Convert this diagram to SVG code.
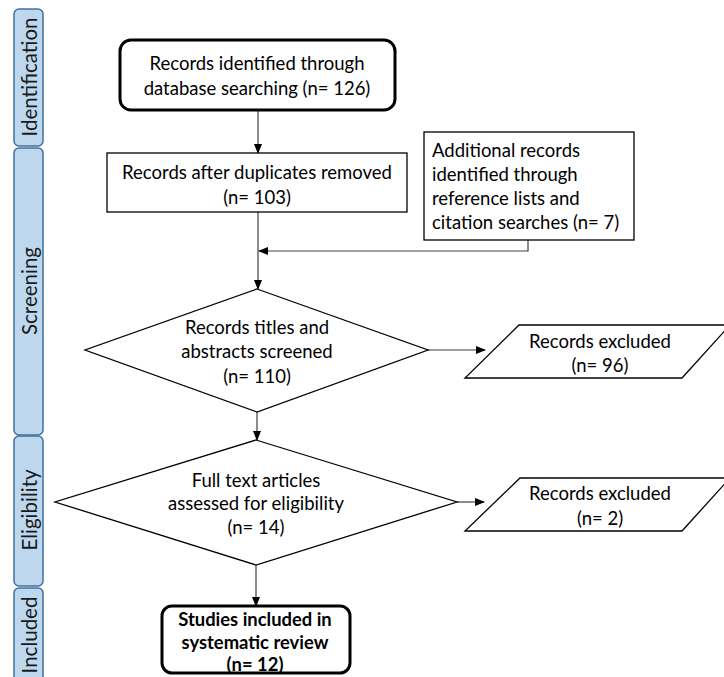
<svg xmlns="http://www.w3.org/2000/svg" width="724" height="677" viewBox="0 0 724 677">
<defs>
<marker id="arr" markerWidth="10" markerHeight="8" refX="9" refY="4" orient="auto" markerUnits="userSpaceOnUse">
<path d="M0,0 L10,4 L0,8 Z" fill="#000"/>
</marker>
<style>
.bar{fill:#BDD7EE;stroke:#41719C;stroke-width:1.5}
.bt{font-family:Lato,"Noto Sans",sans-serif;font-size:20.5px;fill:#1a1a1a;text-anchor:middle;dominant-baseline:central}
.t{font-family:Lato,"Noto Sans",sans-serif;font-size:18.5px;fill:#000;text-anchor:middle;dominant-baseline:central}
.tl{font-family:Lato,"Noto Sans",sans-serif;font-size:18.5px;fill:#000;dominant-baseline:central}
.tb{font-family:Lato,"Noto Sans",sans-serif;font-size:18.4px;font-weight:bold;fill:#000;text-anchor:middle;dominant-baseline:central}
.box{fill:#fff;stroke:#000;stroke-width:1.3}
.rbox{fill:#fff;stroke:#000;stroke-width:3}
.ln{fill:none;stroke:#404040;stroke-width:1.2}
</style>
</defs>
<rect width="724" height="677" fill="#fff"/>
<g id="phases">
<g id="phase-identification"><rect class="bar" x="14" y="9" width="29" height="137" rx="5"/><text class="bt" transform="translate(29,77) rotate(-90)">Identification</text></g>
<g id="phase-screening"><rect class="bar" x="14" y="148" width="29" height="287" rx="5"/><text class="bt" transform="translate(29,291) rotate(-90)">Screening</text></g>
<g id="phase-eligibility"><rect class="bar" x="14" y="436" width="29" height="150" rx="5"/><text class="bt" transform="translate(29,510) rotate(-90)">Eligibility</text></g>
<g id="phase-included"><rect class="bar" x="14" y="588" width="29" height="100" rx="5"/><text class="bt" transform="translate(29,635) rotate(-90)">Included</text></g>
</g>
<g id="connectors">
<line class="ln" x1="258" y1="110" x2="258" y2="153" marker-end="url(#arr)"/>
<line class="ln" x1="258" y1="212" x2="258" y2="289" marker-end="url(#arr)"/>
<polyline class="ln" points="528,240 528,251 259,251" marker-end="url(#arr)"/>
<line class="ln" x1="428" y1="350" x2="485" y2="350" marker-end="url(#arr)"/>
<line class="ln" x1="257" y1="412" x2="257" y2="440" marker-end="url(#arr)"/>
<line class="ln" x1="457" y1="502" x2="484" y2="502" marker-end="url(#arr)"/>
<line class="ln" x1="256" y1="565" x2="256" y2="606" marker-end="url(#arr)"/>
</g>
<g id="n1"><rect class="rbox" x="120" y="40" width="275" height="70" rx="11"/><text class="t" x="257" y="63">Records identified through</text><text class="t" x="257" y="88">database searching (n= 126)</text></g>
<g id="n2"><rect class="box" x="107" y="153" width="300" height="59"/><text class="t" x="257" y="172">Records after duplicates removed</text><text class="t" x="257" y="197">(n= 103)</text></g>
<g id="n3"><rect class="box" x="424" y="132" width="210" height="108"/><text class="tl" x="432" y="150">Additional records</text><text class="tl" x="432" y="174">identified through</text><text class="tl" x="432" y="198">reference lists and</text><text class="tl" x="432" y="222">citation searches (n= 7)</text></g>
<g id="n4"><polygon class="box" points="257,289 428,350 257,412 85,350"/><text class="t" x="257" y="327">Records titles and</text><text class="t" x="257" y="351">abstracts screened</text><text class="t" x="257" y="376">(n= 110)</text></g>
<g id="n5"><polygon class="box" points="519,325 730,325 682,378 465,378"/><text class="t" x="600" y="341">Records excluded</text><text class="t" x="600" y="365">(n= 96)</text></g>
<g id="n6"><polygon class="box" points="256,440 457,502 256,565 55,502"/><text class="t" x="256" y="480">Full text articles</text><text class="t" x="256" y="503">assessed for eligibility</text><text class="t" x="256" y="527">(n= 14)</text></g>
<g id="n7"><polygon class="box" points="520,478 730,478 682,531 465,531"/><text class="t" x="600" y="493">Records excluded</text><text class="t" x="600" y="518">(n= 2)</text></g>
<g id="n8"><rect class="rbox" x="162" y="606" width="188" height="67" rx="10"/><text class="tb" x="255" y="619">Studies included in</text><text class="tb" x="255" y="642">systematic review</text><text class="tb" x="255" y="664">(n= 12)</text></g>
</svg>
